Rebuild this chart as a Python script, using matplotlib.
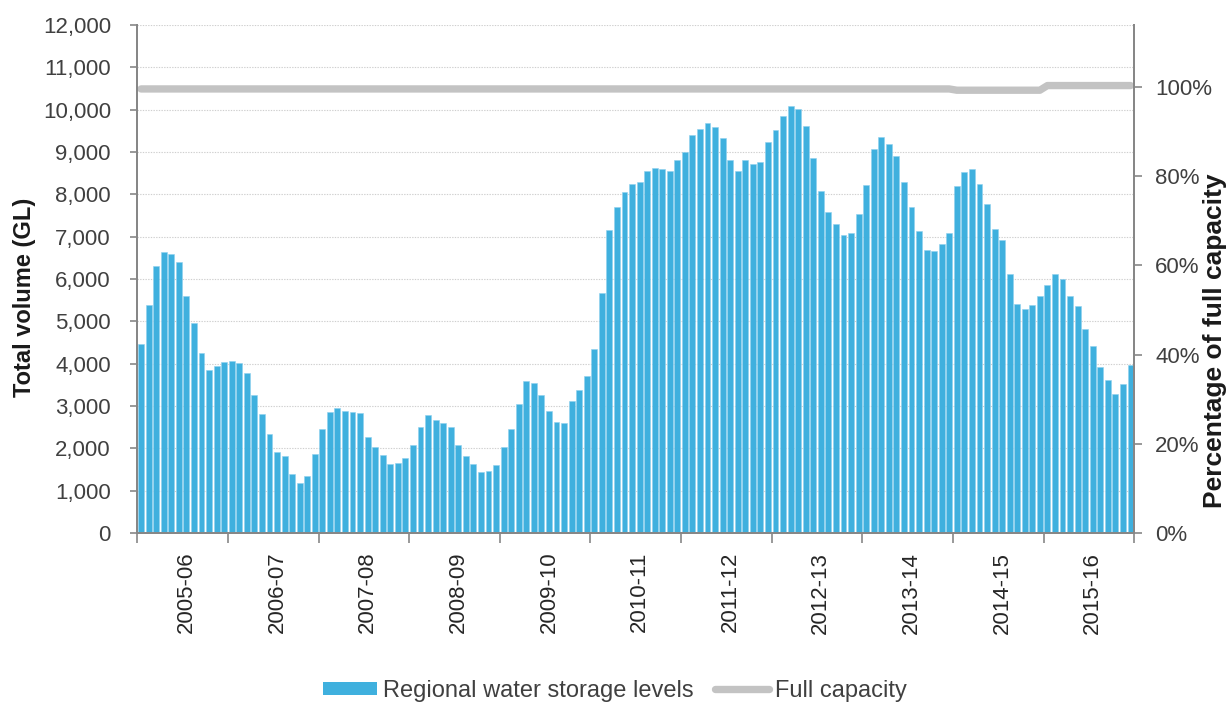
import matplotlib
matplotlib.use("Agg")
import matplotlib.pyplot as plt
from matplotlib.patches import Patch
from matplotlib.lines import Line2D
from matplotlib.ticker import FuncFormatter, FixedLocator
import numpy as np

plt.rcParams['font.family'] = ['Liberation Sans', 'DejaVu Sans']

# ---------------- data ----------------
years = ["2005-06", "2006-07", "2007-08", "2008-09", "2009-10", "2010-11",
         "2011-12", "2012-13", "2013-14", "2014-15", "2015-16"]

# Monthly regional water storage volume (GL), 12 values per financial year
storage_gl = [
    4460, 5380, 6310, 6630, 6600, 6400, 5600, 4950, 4250, 3840, 3940, 4040,   # 2005-06
    4060, 4020, 3780, 3260, 2810, 2340, 1910, 1820, 1390, 1190, 1340, 1860,   # 2006-07
    2460, 2850, 2960, 2870, 2860, 2830, 2260, 2030, 1850, 1620, 1645, 1760,   # 2007-08
    2080, 2510, 2780, 2675, 2595, 2505, 2090, 1820, 1630, 1440, 1455, 1605,   # 2008-09
    2035, 2460, 3040, 3590, 3540, 3250, 2875, 2630, 2610, 3120, 3375, 3720,   # 2009-10
    4335, 5680, 7155, 7700, 8050, 8240, 8295, 8550, 8630, 8605, 8560, 8800,   # 2010-11
    9005, 9400, 9555, 9675, 9595, 9325, 8815, 8545, 8815, 8725, 8775, 9230,   # 2011-12
    9510, 9850, 10090, 10020, 9605, 8870, 8080, 7585, 7290, 7040, 7075, 7530, # 2012-13
    8210, 9070, 9355, 9200, 8910, 8295, 7705, 7140, 6685, 6650, 6835, 7090,   # 2013-14
    8200, 8525, 8600, 8240, 7770, 7180, 6915, 6125, 5420, 5280, 5375, 5600,   # 2014-15
    5850, 6115, 6010, 5605, 5365, 4815, 4425, 3920, 3610, 3275, 3530, 3975,   # 2015-16
]

# Full capacity (GL), monthly
full_capacity_gl = [
    10490, 10490, 10490, 10490, 10490, 10490, 10490, 10490, 10490, 10490, 10490, 10490,
    10490, 10490, 10490, 10490, 10490, 10490, 10490, 10490, 10490, 10490, 10490, 10490,
    10490, 10490, 10490, 10490, 10490, 10490, 10490, 10490, 10490, 10490, 10490, 10490,
    10490, 10490, 10490, 10490, 10490, 10490, 10490, 10490, 10490, 10490, 10490, 10490,
    10490, 10490, 10490, 10490, 10490, 10490, 10490, 10490, 10490, 10490, 10490, 10490,
    10490, 10490, 10490, 10490, 10490, 10490, 10490, 10490, 10490, 10490, 10490, 10490,
    10490, 10490, 10490, 10490, 10490, 10490, 10490, 10490, 10490, 10490, 10490, 10490,
    10490, 10490, 10490, 10490, 10490, 10490, 10490, 10490, 10490, 10490, 10490, 10490,
    10490, 10490, 10490, 10490, 10490, 10490, 10490, 10490, 10490, 10490, 10490, 10490,
    10460, 10460, 10460, 10460, 10460, 10460, 10460, 10460, 10460, 10460, 10460, 10460,
    10570, 10570, 10570, 10570, 10570, 10570, 10570, 10570, 10570, 10570, 10570, 10570,
]

pct_reference_gl = 10540   # volume shown as 100% on the right axis
left_ticks = [0, 1000, 2000, 3000, 4000, 5000, 6000, 7000, 8000, 9000, 10000, 11000, 12000]
right_ticks = [0, 20, 40, 60, 80, 100]

# ---------------- style ----------------
BAR_COLOR = "#3FB0DE"
LINE_COLOR = "#C3C3C3"
SPINE_COLOR = "#878787"
GRID_COLOR = "#CFCFCF"
TEXT_COLOR = "#404040"

fig = plt.figure(figsize=(12.30, 7.05), dpi=100)
ax = fig.add_axes([0.1116, 0.2440, 0.8106, 0.7205])

n = len(storage_gl)
x = np.arange(n)

ax.bar(x, storage_gl, width=0.78, color=BAR_COLOR, edgecolor="#8FD0EE",
       linewidth=0.4, zorder=2)
ax.plot(x, full_capacity_gl, color=LINE_COLOR, linewidth=5.3,
        solid_capstyle="round", solid_joinstyle="round", zorder=3)

ax.set_xlim(-0.5, n - 0.5)
ax.set_ylim(0, 12000)
ax.yaxis.set_major_locator(FixedLocator(left_ticks))
ax.yaxis.set_major_formatter(FuncFormatter(lambda v, p: f"{int(v):,}"))
ax.grid(axis="y", which="major", linestyle=(0, (1.2, 1.2)), color=GRID_COLOR,
        linewidth=0.8, zorder=0)
ax.set_axisbelow(True)

# x axis: ticks at year boundaries, labels within each year
nyears = len(years)
ax.xaxis.set_major_locator(FixedLocator([12 * k - 0.5 for k in range(nyears + 1)]))
ax.xaxis.set_major_formatter(FuncFormatter(lambda v, p: ""))
ax.xaxis.set_minor_locator(FixedLocator([12 * k + 6 for k in range(nyears)]))
ax.set_xticklabels(years, minor=True, rotation=90, va="top", ha="center")
ax.tick_params(axis="x", which="major", direction="out", length=7.5, width=1.2,
               color=SPINE_COLOR)
ax.tick_params(axis="x", which="minor", length=0, pad=13.5, labelsize=16,
               labelcolor="#262626")
ax.tick_params(axis="y", which="major", direction="out", length=5, width=1.2,
               color=SPINE_COLOR, pad=14, labelsize=16, labelcolor=TEXT_COLOR)

for s in ["left", "bottom", "right"]:
    ax.spines[s].set_color(SPINE_COLOR)
    ax.spines[s].set_linewidth(1.4)
ax.spines["top"].set_visible(False)

ax.set_ylabel("Total volume (GL)", fontsize=17, fontweight="bold", color="#1A1A1A")
ax.yaxis.set_label_coords(-0.1016, 0.4646)

# right axis: percent of full capacity
ax2 = ax.twinx()
ax2.set_ylim(0, 12000 / pct_reference_gl * 100)
ax2.yaxis.set_major_locator(FixedLocator(right_ticks))
ax2.yaxis.set_major_formatter(FuncFormatter(lambda v, p: f"{int(v)}%"))
ax2.tick_params(axis="y", direction="out", length=6, width=1.2, color=SPINE_COLOR,
                pad=9, labelsize=16, labelcolor=TEXT_COLOR)
for s in ["left", "bottom", "right"]:
    ax2.spines[s].set_color(SPINE_COLOR)
    ax2.spines[s].set_linewidth(1.4)
ax2.spines["top"].set_visible(False)
ax2.set_ylabel("Percentage of full capacity", fontsize=19, fontweight="bold",
               color="#1A1A1A", rotation=90)
ax2.yaxis.set_label_coords(1.0690, 0.378)

# legend
handles = [
    Patch(facecolor=BAR_COLOR, edgecolor="none", label="Regional water storage levels"),
    Line2D([0], [0], color=LINE_COLOR, linewidth=5.3, solid_capstyle="round",
           label="Full capacity"),
]
leg = fig.legend(handles=handles, loc="center", bbox_to_anchor=(615 / 1230, 1 - 691 / 705),
                 ncol=2, frameon=False, fontsize=17, handlelength=2.3,
                 handleheight=0.5, handletextpad=0.25, columnspacing=0.9)
for t in leg.get_texts():
    t.set_color(TEXT_COLOR)

fig.savefig("out.png", dpi=100)
